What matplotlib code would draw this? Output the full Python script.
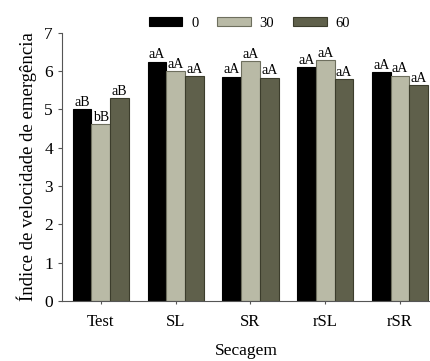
import numpy as np
import matplotlib.pyplot as plt

plt.rcParams['font.family'] = ['Liberation Serif', 'DejaVu Serif']

groups = ['Test', 'SL', 'SR', 'rSL', 'rSR']
series = ['0', '30', '60']
v0 = [5.00, 6.25, 5.86, 6.10, 5.97]
v30 = [4.62, 6.00, 6.26, 6.28, 5.88]
v60 = [5.29, 5.87, 5.83, 5.79, 5.64]
lab0 = ['aB', 'aA', 'aA', 'aA', 'aA']
lab30 = ['bB', 'aA', 'aA', 'aA', 'aA']
lab60 = ['aB', 'aA', 'aA', 'aA', 'aA']

colors = ['#000000', '#b9baa6', '#5f604b']
edges = ['#000000', '#6e6f5e', '#3c3d2c']

fig = plt.figure(figsize=(4.3, 3.61), dpi=100)
ax = fig.add_axes([0.144, 0.166, 0.856, 0.743])

x = np.arange(len(groups))
w = 0.25
for i, (vals, labs) in enumerate([(v0, lab0), (v30, lab30), (v60, lab60)]):
    pos = x + (i - 1) * w
    ax.bar(pos, vals, w, color=colors[i], edgecolor=edges[i], linewidth=0.8,
           label=series[i])
    for p, v, t in zip(pos, vals, labs):
        ax.text(p, v + 0.01, t, ha='center', va='bottom', fontsize=10)

ax.set_xlim(-0.52, 4.4)
ax.set_ylim(0, 7)
ax.set_xticks(x)
ax.set_xticklabels(groups, fontsize=12)
ax.set_yticks(range(8))
ax.tick_params(axis='y', labelsize=12.5, length=3, color='#555555')
ax.tick_params(axis='x', length=2.5, color='#555555', pad=7)
ax.spines['top'].set_visible(False)
ax.spines['right'].set_visible(False)
ax.spines['left'].set_color('#555555')
ax.spines['bottom'].set_color('#555555')
ax.set_ylabel('Índice de velocidade de emergência', fontsize=13.5, labelpad=5)
ax.set_xlabel('Secagem', fontsize=12.5, labelpad=9)

fig.legend(loc='center', bbox_to_anchor=(0.58, 0.936), ncol=3, frameon=False,
           fontsize=10.5, handlelength=2.3, handleheight=0.5,
           handletextpad=0.6, columnspacing=1.3)

fig.savefig('out.png', dpi=100)
